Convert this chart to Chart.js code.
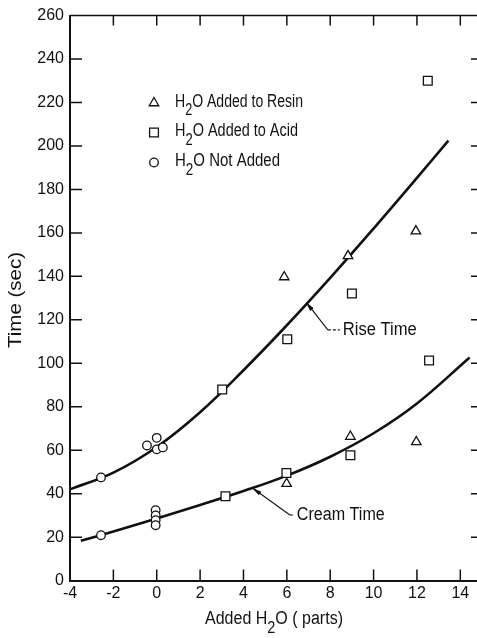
<!DOCTYPE html>
<html><head><meta charset="utf-8">
<script src="https://cdn.jsdelivr.net/npm/chart.js@4.4.1/dist/chart.umd.min.js"></script>
<style>html,body{margin:0;padding:0;background:#fff;overflow:hidden;width:477px;height:638px}canvas{display:block}</style>
</head><body><canvas id="c" width="490" height="638" style="width:490px;height:638px"></canvas>
<script>
const xTicks = [-4, -2, 0, 2, 4, 6, 8, 10, 12, 14];
const yTicks = [0, 20, 40, 60, 80, 100, 120, 140, 160, 180, 200, 220, 240, 260];
const resinX = [5.88, 8.82, 11.95, 5.99, 8.93, 11.97];
const resinY = [139.7, 149.4, 160.8, 44.6, 66.3, 63.8];
const acidX = [3.02, 6.02, 9.0, 12.5, 12.56, 3.17, 5.98, 8.93];
const acidY = [87.9, 111.1, 132.1, 230.0, 101.3, 38.8, 49.5, 57.7];
const notX = [-2.57, -0.45, 0.0, 0.0, 0.28, -2.57, -0.05, -0.05, -0.05, -0.05];
const notY = [47.5, 62.2, 65.7, 60.4, 61.3, 20.9, 32.4, 30.0, 27.8, 25.5];
const riseX = [-4, -2, 0, 2, 4, 6, 8, 10, 12, 13.45];
const riseY = [42, 49.7, 61.5, 77.5, 96.8, 117.5, 139.3, 162, 185.3, 202.5];
const creamX = [-3.5, -2, 0, 2, 4, 6, 8, 10, 12, 14.43];
const creamY = [18.3, 22.6, 28.6, 34.8, 41.2, 48.3, 57, 67.8, 81.5, 102.7];
const legendLabels = [["H", "2", "O Added to Resin"], ["H", "2", "O Added to Acid"], ["H", "2", "O Not Added"]];
const xTitle = ["Added H", "2", "O ( parts)"];
const yTitle = "Time (sec)";
const curveLabels = ["Rise Time", "Cream Time"];

const FONT = "'Liberation Sans', Arial, sans-serif";
const INK = '#111';

function pts(xs, ys) { return xs.map((x, i) => ({x: x, y: ys[i]})); }

function drawFit(ctx, x, y, segs, size, targetW, align) {
  ctx.save();
  ctx.textBaseline = 'middle'; ctx.textAlign = 'left'; ctx.fillStyle = INK;
  let w = 0;
  segs.forEach((t, i) => { ctx.font = ((i % 2) ? size * 0.9 : size) + 'px ' + FONT; w += ctx.measureText(t).width; });
  const sx = targetW / w;
  const x0 = align === 'center' ? x - targetW / 2 : x;
  ctx.translate(x0, y); ctx.scale(sx, 1);
  let cx = 0;
  segs.forEach((t, i) => {
    const sub = (i % 2 === 1);
    ctx.font = (sub ? size * 0.9 : size) + 'px ' + FONT;
    ctx.fillText(t, cx, sub ? size * 0.5 : 0);
    cx += ctx.measureText(t).width;
  });
  ctx.restore();
}
function marker(ctx, kind, x, y) {
  ctx.save(); ctx.strokeStyle = INK; ctx.fillStyle = '#fff'; ctx.lineWidth = 1.3;
  ctx.beginPath();
  if (kind === 'triangle') {
    const r = 5.5;
    ctx.moveTo(x, y - r); ctx.lineTo(x + r * 0.866, y + r / 2); ctx.lineTo(x - r * 0.866, y + r / 2); ctx.closePath();
  } else if (kind === 'rect') {
    const s = 4.4; ctx.rect(x - s, y - s, 2 * s, 2 * s);
  } else {
    ctx.arc(x, y, 4.3, 0, Math.PI * 2);
  }
  ctx.fill(); ctx.stroke(); ctx.restore();
}

const annotations = [
  {label: 0, tip: [6.9, 128], elbow: [7.89, 115.4], textX: 8.58, width: 74},
  {label: 1, tip: [4.43, 42.5], elbow: [6.14, 30.2], textX: 6.46, width: 88}
];

const decor = {
  id: 'decor',
  afterDatasetsDraw(chart) {
    const ctx = chart.ctx, a = chart.chartArea, xs = chart.scales.x, ys = chart.scales.y;
    ctx.save();
    ctx.strokeStyle = INK; ctx.lineWidth = 1.5;
    ctx.beginPath(); ctx.moveTo(a.left, a.top); ctx.lineTo(a.right, a.top); ctx.lineTo(a.right, a.bottom); ctx.stroke();
    ctx.beginPath();
    xTicks.forEach(v => { if (v === -4) return; const p = xs.getPixelForValue(v); ctx.moveTo(p, a.bottom); ctx.lineTo(p, a.bottom - 11); ctx.moveTo(p, a.top); ctx.lineTo(p, a.top + 10); });
    yTicks.forEach(v => { if (v === 0 || v === 260) return; const p = ys.getPixelForValue(v); ctx.moveTo(a.left, p); ctx.lineTo(a.left + 12, p); ctx.moveTo(a.right, p); ctx.lineTo(a.right - 11, p); });
    ctx.stroke();
    const kinds = ['triangle', 'rect', 'circle'];
    const ly = [102, 131.5, 161.5];
    const lw = [128, 123, 105];
    kinds.forEach((k, i) => {
      marker(ctx, k, 154, ly[i] + 1);
      drawFit(ctx, 175, ly[i], legendLabels[i], 18, lw[i], 'left');
    });
    drawFit(ctx, 274, 619.5, xTitle, 18, 138, 'center');
    ctx.save();
    ctx.translate(16, 300); ctx.rotate(-Math.PI / 2);
    drawFit(ctx, 0, 0, [yTitle], 18, 96, 'center');
    ctx.restore();
    annotations.forEach(an => {
      const tx = xs.getPixelForValue(an.tip[0]), ty = ys.getPixelForValue(an.tip[1]);
      const ex = xs.getPixelForValue(an.elbow[0]), ey = ys.getPixelForValue(an.elbow[1]);
      const sx = xs.getPixelForValue(an.textX);
      ctx.lineWidth = 1.1;
      ctx.beginPath(); ctx.moveTo(tx, ty); ctx.lineTo(ex, ey); ctx.stroke();
      ctx.save(); ctx.setLineDash([3, 2]);
      ctx.beginPath(); ctx.moveTo(ex, ey); ctx.lineTo(sx - 3, ey); ctx.stroke(); ctx.restore();
      const ang = Math.atan2(ty - ey, tx - ex);
      ctx.beginPath();
      ctx.moveTo(tx + Math.cos(ang) * 1, ty + Math.sin(ang) * 1);
      ctx.lineTo(tx - Math.cos(ang) * 9 + Math.sin(ang) * 2.2, ty - Math.sin(ang) * 9 - Math.cos(ang) * 2.2);
      ctx.lineTo(tx - Math.cos(ang) * 9 - Math.sin(ang) * 2.2, ty - Math.sin(ang) * 9 + Math.cos(ang) * 2.2);
      ctx.closePath(); ctx.fillStyle = INK; ctx.fill();
      drawFit(ctx, sx, ey, [curveLabels[an.label]], 18, an.width, 'left');
    });
    ctx.restore();
  }
};

const markerStyle = {borderColor: INK, backgroundColor: '#fff', borderWidth: 1.3, showLine: false};

new Chart(document.getElementById('c'), {
  type: 'scatter',
  data: {
    datasets: [
      {label: 'Rise Time', data: pts(riseX, riseY), showLine: true, borderColor: INK, borderWidth: 2.6, pointRadius: 0, tension: 0.4, order: 3},
      {label: 'Cream Time', data: pts(creamX, creamY), showLine: true, borderColor: INK, borderWidth: 2.6, pointRadius: 0, tension: 0.4, order: 3},
      Object.assign({label: 'H2O Added to Resin', data: pts(resinX, resinY), pointStyle: 'triangle', pointRadius: 5.5, order: 1}, markerStyle),
      Object.assign({label: 'H2O Added to Acid', data: pts(acidX, acidY), pointStyle: 'rect', pointRadius: 6.2, order: 1}, markerStyle),
      Object.assign({label: 'H2O Not Added', data: pts(notX, notY), pointStyle: 'circle', pointRadius: 4.3, order: 1}, markerStyle)
    ]
  },
  options: {
    responsive: false, animation: false, devicePixelRatio: 1,
    layout: {padding: {top: 13.6, right: 8, left: 0, bottom: 0}},
    plugins: {legend: {display: false}, tooltip: {enabled: false}},
    scales: {
      x: {
        type: 'linear', min: -4, max: 15,
        afterBuildTicks: s => { s.ticks = xTicks.map(v => ({value: v})); },
        afterFit: s => { s.height = 57.4; },
        grid: {display: false, drawTicks: false},
        border: {display: true, color: INK, width: 2},
        ticks: {color: INK, padding: 3, font: {family: FONT, size: 16}}
      },
      y: {
        type: 'linear', min: 0, max: 260,
        afterBuildTicks: s => { s.ticks = yTicks.map(v => ({value: v})); },
        afterFit: s => { s.width = 70; },
        grid: {display: false, drawTicks: false},
        border: {display: true, color: INK, width: 2},
        ticks: {color: INK, padding: 6, font: {family: FONT, size: 16}}
      }
    }
  },
  plugins: [decor]
});
</script>
</body></html>
